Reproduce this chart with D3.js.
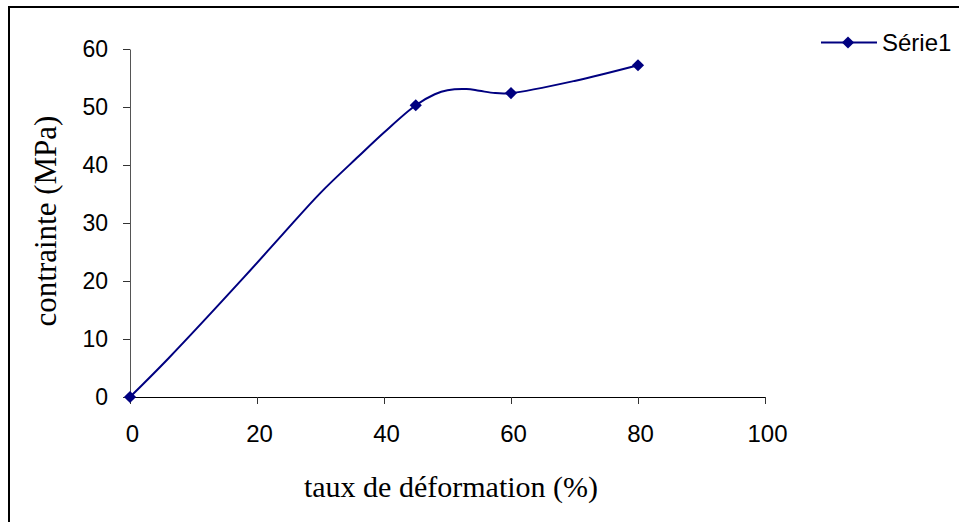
<!DOCTYPE html>
<html>
<head>
<meta charset="utf-8">
<script src="https://cdn.jsdelivr.net/npm/d3@7"></script>
<style>
html,body{margin:0;padding:0;background:#fff;}
svg{display:block;}
</style>
</head>
<body>
<svg id="chart" width="959" height="522"></svg>
<script>
// Data
const markerX = [0, 45, 60, 80];
const markerY = [0, 50.3, 52.4, 57.2];
const curveX = [0, 6, 18, 24, 30, 36, 40, 45, 48, 50, 53, 55, 57.5, 60, 70, 80];
const curveY = [0, 6.6, 20.7, 28, 35.2, 41.5, 45.6, 50.3, 52.2, 52.9, 53.1, 52.8, 52.4, 52.4, 54.5, 57.2];
const xTicks = [0, 20, 40, 60, 80, 100];
const yTicks = [0, 10, 20, 30, 40, 50, 60];
const seriesName = "Série1";
const xTitle = "taux de déformation (%)";
const yTitle = "contrainte (MPa)";

const svg = d3.select("#chart");
const color = "#000080";

// outer frame
svg.append("rect").attr("x", 9).attr("y", 7).attr("width", 960).attr("height", 530)
  .attr("fill", "none").attr("stroke", "#000").attr("stroke-width", 2);

const x = d3.scaleLinear().domain([0, 100]).range([130, 765]);
const y = d3.scaleLinear().domain([0, 60]).range([397, 49]);

// y axis
const gy = svg.append("g").attr("transform", "translate(130,0)")
  .call(d3.axisLeft(y).tickValues(yTicks).tickSize(7).tickPadding(15).tickSizeOuter(0));
gy.select(".domain").attr("stroke", "#555");
gy.selectAll(".tick line").attr("stroke", "#333");
gy.selectAll("text").attr("font-family", "'Liberation Sans', Arial, sans-serif")
  .attr("font-size", 23).attr("fill", "#000");

// x axis
const gx = svg.append("g").attr("transform", "translate(0,397)")
  .call(d3.axisBottom(x).tickValues(xTicks).tickSize(7).tickSizeOuter(0));
gx.select(".domain").attr("stroke", "#000");
gx.selectAll(".tick line").attr("stroke", "#333");
gx.selectAll("text").attr("font-family", "'Liberation Sans', Arial, sans-serif")
  .attr("font-size", 24).attr("fill", "#000").attr("x", 2).attr("y", 45).attr("dy", 0);

// titles
svg.append("text").attr("x", 451).attr("y", 497).attr("text-anchor", "middle")
  .attr("font-family", "'Liberation Serif', 'Times New Roman', serif").attr("font-size", 30)
  .text(xTitle);
svg.append("text").attr("transform", "translate(45.5,221) rotate(-90)").attr("text-anchor", "middle")
  .attr("dy", "0.35em")
  .attr("font-family", "'Liberation Serif', 'Times New Roman', serif").attr("font-size", 31)
  .text(yTitle);

// line
const pts = curveX.map((v, i) => [v, curveY[i]]);
svg.append("path").datum(pts)
  .attr("fill", "none").attr("stroke", color).attr("stroke-width", 2)
  .attr("d", d3.line().x(d => x(d[0])).y(d => y(d[1])).curve(d3.curveCatmullRom.alpha(0.5)));

// markers
const diamond = d3.symbol().type(d3.symbolDiamond2).size(95);
svg.selectAll(".mk").data(markerX.map((v, i) => [v, markerY[i]])).join("path")
  .attr("class", "mk")
  .attr("transform", d => `translate(${x(d[0])},${y(d[1])})`)
  .attr("d", diamond).attr("fill", color);

// legend
svg.append("line").attr("x1", 821).attr("x2", 877).attr("y1", 42.5).attr("y2", 42.5)
  .attr("stroke", color).attr("stroke-width", 2);
svg.append("path").attr("transform", "translate(848,42.5)").attr("d", diamond).attr("fill", color);
svg.append("text").attr("x", 882).attr("y", 42.5).attr("dy", "0.35em")
  .attr("font-family", "'Liberation Sans', Arial, sans-serif").attr("font-size", 24)
  .text(seriesName);
</script>
</body>
</html>
